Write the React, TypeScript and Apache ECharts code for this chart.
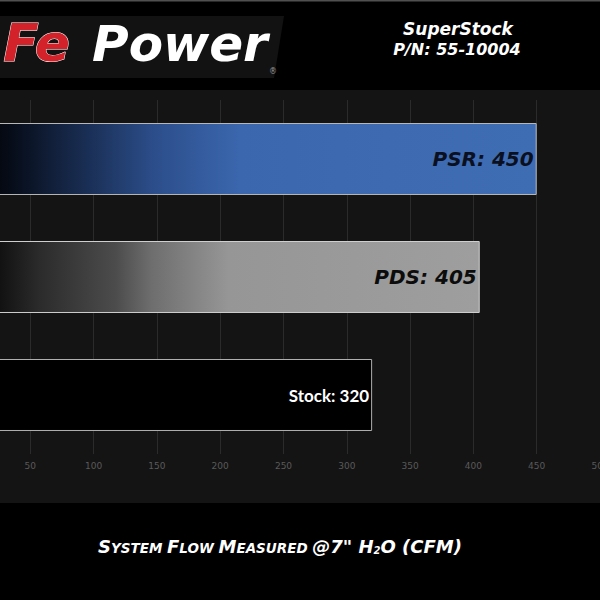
import React, { useEffect, useRef } from "react";
import * as echarts from "echarts";

const categories = ["PSR", "PDS", "Stock"];
const values = [450, 405, 320];
const tickMin = 0;
const tickMax = 500;
const tickInterval = 50;

const App: React.FC = () => {
  const ref = useRef<HTMLDivElement>(null);
  useEffect(() => {
    if (!ref.current) return;
    const chart = echarts.init(ref.current, undefined, { renderer: "svg" });
    const sq = "DejaVu Sans";
    const barStyles = [
      {
        color: new echarts.graphic.LinearGradient(0, 0, 1, 0, [
          { offset: 0, color: "#000000" },
          { offset: 0.07, color: "#060b16" },
          { offset: 0.22, color: "#1b3159" },
          { offset: 0.33, color: "#2c4e8b" },
          { offset: 0.48, color: "#3b67ae" },
          { offset: 1, color: "#3f6db4" },
        ]),
        borderColor: "#b8b8b8",
        borderWidth: 1,
      },
      {
        color: new echarts.graphic.LinearGradient(0, 0, 1, 0, [
          { offset: 0, color: "#0a0a0a" },
          { offset: 0.064, color: "#121212" },
          { offset: 0.14, color: "#2b2b2b" },
          { offset: 0.29, color: "#4c4c4c" },
          { offset: 0.36, color: "#6e6e6e" },
          { offset: 0.51, color: "#969696" },
          { offset: 1, color: "#9e9e9e" },
        ]),
        borderColor: "#cfcfcf",
        borderWidth: 1,
      },
      { color: "#000000", borderColor: "#b0b0b0", borderWidth: 1 },
    ];
    const labelStyles = [
      { color: "#0b1020", fontFamily: sq, fontWeight: "bold", fontStyle: "italic", fontSize: 20 },
      { color: "#0c0c0c", fontFamily: sq, fontWeight: "bold", fontStyle: "italic", fontSize: 20 },
      { color: "#ffffff", fontFamily: "Lato", fontWeight: "bold", fontSize: 17 },
    ];
    const big = { fontFamily: sq, fontWeight: "bold", fontStyle: "italic", fontSize: 18, fill: "#fff", verticalAlign: "bottom", lineHeight: 20 };
    const small = { fontFamily: sq, fontWeight: "bold", fontStyle: "italic", fontSize: 13.5, fill: "#fff", verticalAlign: "bottom", lineHeight: 20 };
    const sub = { fontFamily: sq, fontWeight: "bold", fontStyle: "italic", fontSize: 10, fill: "#fff", verticalAlign: "bottom", lineHeight: 18 };

    chart.setOption({
      animation: false,
      backgroundColor: "#000000",
      grid: { left: -33, right: 0, top: 100, bottom: 146, containLabel: false, outerBoundsMode: "none" },
      xAxis: {
        type: "value",
        min: tickMin,
        max: tickMax,
        interval: tickInterval,
        axisLine: { show: false },
        axisTick: { show: false },
        splitLine: { show: true, lineStyle: { color: "#2b2b2b", width: 1 } },
        axisLabel: { color: "#5a5a5a", fontSize: 9, fontFamily: sq, margin: 7, hideOverlap: false, showMinLabel: false },
      },
      yAxis: {
        type: "category",
        inverse: true,
        data: categories,
        axisLine: { show: false },
        axisTick: { show: false },
        axisLabel: { show: false },
        splitLine: { show: false },
      },
      series: [
        {
          type: "bar",
          barCategoryGap: "39%",
          z: 3,
          data: values.map((v, i) => ({
            value: v,
            itemStyle: barStyles[i],
            label: {
              show: true,
              position: "insideRight",
              distance: 3,
              formatter: "{b}: {c}",
              ...labelStyles[i],
            },
          })),
        },
      ],
      graphic: {
        elements: [
          { type: "rect", z: -10, shape: { x: 0, y: 90, width: 600, height: 413 }, style: { fill: "#141414" } },
          { type: "rect", z: -9, shape: { x: 0, y: 0, width: 600, height: 1.5 }, style: { fill: "#505050" } },
          {
            type: "polygon",
            z: -8,
            shape: { points: [[0, 16], [284, 16], [274, 78], [0, 78]] },
            style: { fill: "#121212" },
          },
          {
            type: "text",
            x: 70,
            y: 69,
            style: {
              text: "Fe",
              fill: "#d3222a",
              stroke: "#ffffff",
              lineWidth: 1,
              font: `italic bold 52px "${sq}"`,
              textAlign: "right",
              textVerticalAlign: "bottom",
            },
          },
          {
            type: "text",
            x: 92,
            y: 69,
            style: {
              text: "Power",
              fill: "#ffffff",
              font: `italic bold 50px "${sq}"`,
              textAlign: "left",
              textVerticalAlign: "bottom",
            },
          },
          {
            type: "text",
            x: 273,
            y: 71,
            style: { text: "®", fill: "#999", font: `8px "${sq}"`, textAlign: "center", textVerticalAlign: "middle" },
          },
          {
            type: "text",
            x: 458,
            y: 29,
            style: { text: "SuperStock", fill: "#ffffff", font: `italic bold 17px "${sq}"`, textAlign: "center", textVerticalAlign: "middle" },
          },
          {
            type: "text",
            x: 457,
            y: 49,
            style: { text: "P/N: 55-10004", fill: "#ffffff", font: `italic bold 16px "${sq}"`, textAlign: "center", textVerticalAlign: "middle" },
          },
          {
            type: "text",
            x: 280,
            y: 545,
            style: {
              text: "{b|S}{s|YSTEM }{b|F}{s|LOW }{b|M}{s|EASURED }{b|@7\" H}{u|2}{b|O (CFM)}",
              rich: { b: big, s: small, u: sub },
              textAlign: "center",
              textVerticalAlign: "middle",
            },
          },
        ],
      },
    });
    return () => chart.dispose();
  }, []);
  return (
    <div
      ref={ref}
      style={{ position: "fixed", left: 0, top: 0, width: 600, height: 600 }}
    />
  );
};

export default App;
